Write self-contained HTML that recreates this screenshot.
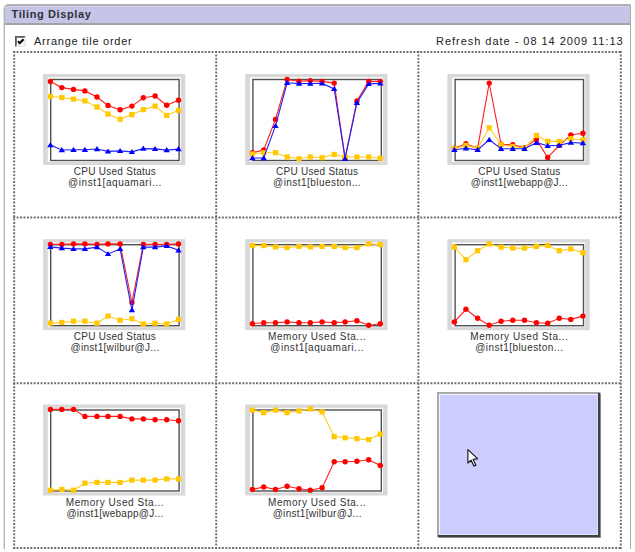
<!DOCTYPE html>
<html><head><meta charset="utf-8"><style>
html,body{margin:0;padding:0;background:#fff;width:635px;height:552px;overflow:hidden;}
body{position:relative;font-family:"Liberation Sans",sans-serif;color:#222;}
.panel{position:absolute;left:4px;top:4px;width:627px;height:545px;border-top:2px solid #b0b0b0;border-left:1px solid #b4b4b4;border-right:1px solid #a8a8a8;border-radius:5px 0 0 0;box-sizing:border-box;box-shadow:-1px 0 0 #e2e2e2;}
.hdr{position:absolute;left:5px;top:6px;width:625px;height:16px;background:#c5c5e7;border-top:1px solid #d0d0ec;box-sizing:content-box;border-bottom:2px solid #a4a4a4;border-radius:3px 0 0 0;}
.title{position:absolute;left:11.5px;top:8px;font-weight:bold;font-size:11px;line-height:13px;color:#303038;letter-spacing:0.62px;}
.txt{position:absolute;font-size:11px;line-height:12px;color:#222;white-space:nowrap;}
.cb{position:absolute;left:15px;top:36px;width:8px;height:8px;border:1px solid #555;border-right-color:#ccc;border-bottom-color:#ccc;background:#fff;}
.lbl{position:absolute;width:160px;text-align:center;font-size:10px;line-height:11px;color:#333;white-space:nowrap;}
svg{position:absolute;left:0;top:0;}
.ph{position:absolute;left:438px;top:392px;width:163px;height:146px;box-sizing:border-box;background:#ccccff;border-top:2px solid #acacac;border-left:2px solid #acacac;border-right:3px solid #404040;border-bottom:3px solid #404040;}
</style></head><body>
<div class="panel"></div>
<div class="hdr"></div>
<div class="title">Tiling Display</div>
<svg width="12" height="12" style="left:15px;top:35.5px"><rect x="0" y="0" width="10.5" height="10.5" fill="#fff"/><path d="M0.9 10.5V0.9H10.2" stroke="#5a5a5a" stroke-width="1.8" fill="none"/><path d="M10 1V10H1" stroke="#d8d8d8" stroke-width="1" fill="none"/><path d="M3 5.2L4.7 7.3L8.5 3.2" stroke="#000" stroke-width="2" fill="none"/></svg>
<div class="txt" style="left:34px;top:35px;letter-spacing:0.75px">Arrange tile order</div>
<div class="txt" style="left:436px;top:35px;letter-spacing:0.97px">Refresh date - 08 14 2009 11:13</div>
<svg width="635" height="552" viewBox="0 0 635 552">
<defs><pattern id="dots" width="4" height="4" patternUnits="userSpaceOnUse"><rect width="4" height="4" fill="#fff"/><rect x="1" y="1" width="1" height="1" fill="#f7f7f7"/></pattern></defs>
<line x1="14.2" y1="51.1" x2="14.2" y2="549" stroke="#6a6a6a" stroke-width="1.9" stroke-dasharray="1.9 1.52"/>
<line x1="216.2" y1="51.1" x2="216.2" y2="549" stroke="#6a6a6a" stroke-width="1.9" stroke-dasharray="1.9 1.52"/>
<line x1="418.4" y1="51.1" x2="418.4" y2="549" stroke="#6a6a6a" stroke-width="1.9" stroke-dasharray="1.9 1.52"/>
<line x1="620.8" y1="51.1" x2="620.8" y2="549" stroke="#6a6a6a" stroke-width="1.9" stroke-dasharray="1.9 1.52"/>
<line x1="13.25" y1="52.0" x2="622" y2="52.0" stroke="#6a6a6a" stroke-width="1.9" stroke-dasharray="1.9 1.52"/>
<line x1="13.25" y1="217.5" x2="622" y2="217.5" stroke="#6a6a6a" stroke-width="1.9" stroke-dasharray="1.9 1.52"/>
<line x1="13.25" y1="383.2" x2="622" y2="383.2" stroke="#6a6a6a" stroke-width="1.9" stroke-dasharray="1.9 1.52"/>
<line x1="13.25" y1="548.0" x2="622" y2="548.0" stroke="#6a6a6a" stroke-width="1.9" stroke-dasharray="1.9 1.52"/>
<rect x="43" y="74" width="142.3" height="91" fill="#d8d8d8"/>
<rect x="47.8" y="77.3" width="133" height="84.7" fill="#fff"/>
<rect x="50.7" y="79.5" width="128.4" height="81" fill="url(#dots)" stroke="#505050" stroke-width="1.4"/>
<polyline points="50.4,81.5 61.8,87.6 73.5,89.4 84.9,90.9 97.0,97.0 108.0,105.4 120.1,109.8 131.9,106.1 143.3,97.7 155.1,96.0 166.7,105.3 178.5,100.3" fill="none" stroke="#ff2020" stroke-width="1.1"/>
<circle cx="50.4" cy="81.5" r="2.7" fill="#ff0000"/>
<circle cx="61.8" cy="87.6" r="2.7" fill="#ff0000"/>
<circle cx="73.5" cy="89.4" r="2.7" fill="#ff0000"/>
<circle cx="84.9" cy="90.9" r="2.7" fill="#ff0000"/>
<circle cx="97.0" cy="97.0" r="2.7" fill="#ff0000"/>
<circle cx="108.0" cy="105.4" r="2.7" fill="#ff0000"/>
<circle cx="120.1" cy="109.8" r="2.7" fill="#ff0000"/>
<circle cx="131.9" cy="106.1" r="2.7" fill="#ff0000"/>
<circle cx="143.3" cy="97.7" r="2.7" fill="#ff0000"/>
<circle cx="155.1" cy="96.0" r="2.7" fill="#ff0000"/>
<circle cx="166.7" cy="105.3" r="2.7" fill="#ff0000"/>
<circle cx="178.5" cy="100.3" r="2.7" fill="#ff0000"/>
<polyline points="50.4,96.5 61.8,97.5 73.5,99.1 84.9,100.9 97.0,107.0 108.0,114.0 120.1,119.2 131.9,114.6 143.3,109.6 155.1,106.1 166.7,115.4 178.5,110.3" fill="none" stroke="#ffcc22" stroke-width="1.1"/>
<rect x="47.8" y="93.9" width="5.2" height="5.2" fill="#ffc800"/>
<rect x="59.2" y="94.9" width="5.2" height="5.2" fill="#ffc800"/>
<rect x="70.9" y="96.5" width="5.2" height="5.2" fill="#ffc800"/>
<rect x="82.3" y="98.3" width="5.2" height="5.2" fill="#ffc800"/>
<rect x="94.4" y="104.4" width="5.2" height="5.2" fill="#ffc800"/>
<rect x="105.4" y="111.4" width="5.2" height="5.2" fill="#ffc800"/>
<rect x="117.5" y="116.6" width="5.2" height="5.2" fill="#ffc800"/>
<rect x="129.3" y="112.0" width="5.2" height="5.2" fill="#ffc800"/>
<rect x="140.7" y="107.0" width="5.2" height="5.2" fill="#ffc800"/>
<rect x="152.5" y="103.5" width="5.2" height="5.2" fill="#ffc800"/>
<rect x="164.1" y="112.8" width="5.2" height="5.2" fill="#ffc800"/>
<rect x="175.9" y="107.7" width="5.2" height="5.2" fill="#ffc800"/>
<polyline points="50.4,145.1 61.8,150.0 73.5,149.8 84.9,149.8 97.0,149.0 108.0,151.4 120.1,150.9 131.9,151.9 143.3,148.6 155.1,148.9 166.7,150.1 178.5,149.1" fill="none" stroke="#2020ff" stroke-width="1.1"/>
<path d="M50.4 142.1L53.6 147.3L47.2 147.3Z" fill="#0000ff"/>
<path d="M61.8 147.0L65.0 152.2L58.6 152.2Z" fill="#0000ff"/>
<path d="M73.5 146.8L76.7 152.0L70.3 152.0Z" fill="#0000ff"/>
<path d="M84.9 146.8L88.1 152.0L81.7 152.0Z" fill="#0000ff"/>
<path d="M97.0 146.0L100.2 151.2L93.8 151.2Z" fill="#0000ff"/>
<path d="M108.0 148.4L111.2 153.6L104.8 153.6Z" fill="#0000ff"/>
<path d="M120.1 147.9L123.3 153.1L116.9 153.1Z" fill="#0000ff"/>
<path d="M131.9 148.9L135.1 154.1L128.7 154.1Z" fill="#0000ff"/>
<path d="M143.3 145.6L146.5 150.8L140.1 150.8Z" fill="#0000ff"/>
<path d="M155.1 145.9L158.3 151.1L151.9 151.1Z" fill="#0000ff"/>
<path d="M166.7 147.1L169.9 152.3L163.5 152.3Z" fill="#0000ff"/>
<path d="M178.5 146.1L181.7 151.3L175.3 151.3Z" fill="#0000ff"/>
<rect x="245.2" y="74" width="142.3" height="91" fill="#d8d8d8"/>
<rect x="250.0" y="77.3" width="133" height="84.7" fill="#fff"/>
<rect x="252.89999999999998" y="79.5" width="128.4" height="81" fill="url(#dots)" stroke="#505050" stroke-width="1.4"/>
<polyline points="252.4,152.8 263.7,150.0 275.5,119.4 287.1,79.5 299.0,81.3 310.3,80.6 322.1,81.4 334.2,83.1 345.1,158.0 356.9,101.0 368.7,81.4 380.3,81.4" fill="none" stroke="#ff2020" stroke-width="1.1"/>
<circle cx="252.4" cy="152.8" r="2.7" fill="#ff0000"/>
<circle cx="263.7" cy="150.0" r="2.7" fill="#ff0000"/>
<circle cx="275.5" cy="119.4" r="2.7" fill="#ff0000"/>
<circle cx="287.1" cy="79.5" r="2.7" fill="#ff0000"/>
<circle cx="299.0" cy="81.3" r="2.7" fill="#ff0000"/>
<circle cx="310.3" cy="80.6" r="2.7" fill="#ff0000"/>
<circle cx="322.1" cy="81.4" r="2.7" fill="#ff0000"/>
<circle cx="334.2" cy="83.1" r="2.7" fill="#ff0000"/>
<circle cx="345.1" cy="158.0" r="2.7" fill="#ff0000"/>
<circle cx="356.9" cy="101.0" r="2.7" fill="#ff0000"/>
<circle cx="368.7" cy="81.4" r="2.7" fill="#ff0000"/>
<circle cx="380.3" cy="81.4" r="2.7" fill="#ff0000"/>
<polyline points="252.4,154.0 263.7,152.7 275.5,152.7 287.1,157.0 299.0,158.7 310.3,157.0 322.1,157.7 334.2,154.4 345.1,157.0 356.9,157.0 368.7,157.0 380.3,158.2" fill="none" stroke="#ffcc22" stroke-width="1.1"/>
<rect x="249.8" y="151.4" width="5.2" height="5.2" fill="#ffc800"/>
<rect x="261.1" y="150.1" width="5.2" height="5.2" fill="#ffc800"/>
<rect x="272.9" y="150.1" width="5.2" height="5.2" fill="#ffc800"/>
<rect x="284.5" y="154.4" width="5.2" height="5.2" fill="#ffc800"/>
<rect x="296.4" y="156.1" width="5.2" height="5.2" fill="#ffc800"/>
<rect x="307.7" y="154.4" width="5.2" height="5.2" fill="#ffc800"/>
<rect x="319.5" y="155.1" width="5.2" height="5.2" fill="#ffc800"/>
<rect x="331.6" y="151.8" width="5.2" height="5.2" fill="#ffc800"/>
<rect x="342.5" y="154.4" width="5.2" height="5.2" fill="#ffc800"/>
<rect x="354.3" y="154.4" width="5.2" height="5.2" fill="#ffc800"/>
<rect x="366.1" y="154.4" width="5.2" height="5.2" fill="#ffc800"/>
<rect x="377.7" y="155.6" width="5.2" height="5.2" fill="#ffc800"/>
<polyline points="252.4,158.0 263.7,158.0 275.5,125.9 287.1,82.8 299.0,83.6 310.3,83.5 322.1,83.4 334.2,88.9 345.1,158.7 356.9,102.8 368.7,83.9 380.3,83.4" fill="none" stroke="#2020ff" stroke-width="1.1"/>
<path d="M252.4 155.0L255.6 160.2L249.2 160.2Z" fill="#0000ff"/>
<path d="M263.7 155.0L266.9 160.2L260.5 160.2Z" fill="#0000ff"/>
<path d="M275.5 122.9L278.7 128.1L272.3 128.1Z" fill="#0000ff"/>
<path d="M287.1 79.8L290.3 85.0L283.9 85.0Z" fill="#0000ff"/>
<path d="M299.0 80.6L302.2 85.8L295.8 85.8Z" fill="#0000ff"/>
<path d="M310.3 80.5L313.5 85.7L307.1 85.7Z" fill="#0000ff"/>
<path d="M322.1 80.4L325.3 85.6L318.9 85.6Z" fill="#0000ff"/>
<path d="M334.2 85.9L337.4 91.1L331.0 91.1Z" fill="#0000ff"/>
<path d="M345.1 155.7L348.3 160.9L341.9 160.9Z" fill="#0000ff"/>
<path d="M356.9 99.8L360.1 105.0L353.7 105.0Z" fill="#0000ff"/>
<path d="M368.7 80.9L371.9 86.1L365.5 86.1Z" fill="#0000ff"/>
<path d="M380.3 80.4L383.5 85.6L377.1 85.6Z" fill="#0000ff"/>
<rect x="447.4" y="74" width="142.3" height="91" fill="#d8d8d8"/>
<rect x="452.2" y="77.3" width="133" height="84.7" fill="#fff"/>
<rect x="455.09999999999997" y="79.5" width="128.4" height="81" fill="url(#dots)" stroke="#505050" stroke-width="1.4"/>
<polyline points="454.4,148.2 465.9,143.8 477.6,148.2 489.2,83.1 501.1,144.3 512.8,144.7 524.5,147.6 536.4,139.4 547.7,157.5 559.3,145.4 570.8,135.0 582.9,133.2" fill="none" stroke="#ff2020" stroke-width="1.1"/>
<circle cx="454.4" cy="148.2" r="2.7" fill="#ff0000"/>
<circle cx="465.9" cy="143.8" r="2.7" fill="#ff0000"/>
<circle cx="477.6" cy="148.2" r="2.7" fill="#ff0000"/>
<circle cx="489.2" cy="83.1" r="2.7" fill="#ff0000"/>
<circle cx="501.1" cy="144.3" r="2.7" fill="#ff0000"/>
<circle cx="512.8" cy="144.7" r="2.7" fill="#ff0000"/>
<circle cx="524.5" cy="147.6" r="2.7" fill="#ff0000"/>
<circle cx="536.4" cy="139.4" r="2.7" fill="#ff0000"/>
<circle cx="547.7" cy="157.5" r="2.7" fill="#ff0000"/>
<circle cx="559.3" cy="145.4" r="2.7" fill="#ff0000"/>
<circle cx="570.8" cy="135.0" r="2.7" fill="#ff0000"/>
<circle cx="582.9" cy="133.2" r="2.7" fill="#ff0000"/>
<polyline points="454.4,148.7 465.9,145.4 477.6,148.2 489.2,127.7 501.1,144.7 512.8,146.5 524.5,148.2 536.4,135.4 547.7,141.4 559.3,141.4 570.8,138.7 582.9,139.8" fill="none" stroke="#ffcc22" stroke-width="1.1"/>
<rect x="451.8" y="146.1" width="5.2" height="5.2" fill="#ffc800"/>
<rect x="463.3" y="142.8" width="5.2" height="5.2" fill="#ffc800"/>
<rect x="475.0" y="145.6" width="5.2" height="5.2" fill="#ffc800"/>
<rect x="486.6" y="125.1" width="5.2" height="5.2" fill="#ffc800"/>
<rect x="498.5" y="142.1" width="5.2" height="5.2" fill="#ffc800"/>
<rect x="510.2" y="143.9" width="5.2" height="5.2" fill="#ffc800"/>
<rect x="521.9" y="145.6" width="5.2" height="5.2" fill="#ffc800"/>
<rect x="533.8" y="132.8" width="5.2" height="5.2" fill="#ffc800"/>
<rect x="545.1" y="138.8" width="5.2" height="5.2" fill="#ffc800"/>
<rect x="556.7" y="138.8" width="5.2" height="5.2" fill="#ffc800"/>
<rect x="568.2" y="136.1" width="5.2" height="5.2" fill="#ffc800"/>
<rect x="580.3" y="137.2" width="5.2" height="5.2" fill="#ffc800"/>
<polyline points="454.4,149.8 465.9,148.2 477.6,149.8 489.2,139.8 501.1,148.7 512.8,148.7 524.5,148.7 536.4,142.7 547.7,145.8 559.3,145.4 570.8,142.5 582.9,143.1" fill="none" stroke="#2020ff" stroke-width="1.1"/>
<path d="M454.4 146.8L457.6 152.0L451.2 152.0Z" fill="#0000ff"/>
<path d="M465.9 145.2L469.1 150.4L462.7 150.4Z" fill="#0000ff"/>
<path d="M477.6 146.8L480.8 152.0L474.4 152.0Z" fill="#0000ff"/>
<path d="M489.2 136.8L492.4 142.0L486.0 142.0Z" fill="#0000ff"/>
<path d="M501.1 145.7L504.3 150.9L497.9 150.9Z" fill="#0000ff"/>
<path d="M512.8 145.7L516.0 150.9L509.6 150.9Z" fill="#0000ff"/>
<path d="M524.5 145.7L527.7 150.9L521.3 150.9Z" fill="#0000ff"/>
<path d="M536.4 139.7L539.6 144.9L533.2 144.9Z" fill="#0000ff"/>
<path d="M547.7 142.8L550.9 148.0L544.5 148.0Z" fill="#0000ff"/>
<path d="M559.3 142.4L562.5 147.6L556.1 147.6Z" fill="#0000ff"/>
<path d="M570.8 139.5L574.0 144.7L567.6 144.7Z" fill="#0000ff"/>
<path d="M582.9 140.1L586.1 145.3L579.7 145.3Z" fill="#0000ff"/>
<rect x="43" y="239.2" width="142.3" height="91" fill="#d8d8d8"/>
<rect x="47.8" y="242.5" width="133" height="84.7" fill="#fff"/>
<rect x="50.7" y="244.7" width="128.4" height="81" fill="url(#dots)" stroke="#505050" stroke-width="1.4"/>
<polyline points="50.4,244.4 61.8,244.4 73.5,243.9 84.9,243.9 97.0,244.4 108.0,243.9 120.1,243.9 131.9,302.5 143.3,244.4 155.1,244.4 166.7,244.4 178.5,243.9" fill="none" stroke="#ff2020" stroke-width="1.1"/>
<circle cx="50.4" cy="244.4" r="2.7" fill="#ff0000"/>
<circle cx="61.8" cy="244.4" r="2.7" fill="#ff0000"/>
<circle cx="73.5" cy="243.9" r="2.7" fill="#ff0000"/>
<circle cx="84.9" cy="243.9" r="2.7" fill="#ff0000"/>
<circle cx="97.0" cy="244.4" r="2.7" fill="#ff0000"/>
<circle cx="108.0" cy="243.9" r="2.7" fill="#ff0000"/>
<circle cx="120.1" cy="243.9" r="2.7" fill="#ff0000"/>
<circle cx="131.9" cy="302.5" r="2.7" fill="#ff0000"/>
<circle cx="143.3" cy="244.4" r="2.7" fill="#ff0000"/>
<circle cx="155.1" cy="244.4" r="2.7" fill="#ff0000"/>
<circle cx="166.7" cy="244.4" r="2.7" fill="#ff0000"/>
<circle cx="178.5" cy="243.9" r="2.7" fill="#ff0000"/>
<polyline points="50.4,323.2 61.8,322.4 73.5,321.2 84.9,321.2 97.0,323.2 108.0,316.1 120.1,320.2 131.9,318.7 143.3,324.0 155.1,323.2 166.7,324.0 178.5,319.4" fill="none" stroke="#ffcc22" stroke-width="1.1"/>
<rect x="47.8" y="320.6" width="5.2" height="5.2" fill="#ffc800"/>
<rect x="59.2" y="319.8" width="5.2" height="5.2" fill="#ffc800"/>
<rect x="70.9" y="318.6" width="5.2" height="5.2" fill="#ffc800"/>
<rect x="82.3" y="318.6" width="5.2" height="5.2" fill="#ffc800"/>
<rect x="94.4" y="320.6" width="5.2" height="5.2" fill="#ffc800"/>
<rect x="105.4" y="313.5" width="5.2" height="5.2" fill="#ffc800"/>
<rect x="117.5" y="317.6" width="5.2" height="5.2" fill="#ffc800"/>
<rect x="129.3" y="316.1" width="5.2" height="5.2" fill="#ffc800"/>
<rect x="140.7" y="321.4" width="5.2" height="5.2" fill="#ffc800"/>
<rect x="152.5" y="320.6" width="5.2" height="5.2" fill="#ffc800"/>
<rect x="164.1" y="321.4" width="5.2" height="5.2" fill="#ffc800"/>
<rect x="175.9" y="316.8" width="5.2" height="5.2" fill="#ffc800"/>
<polyline points="50.4,246.9 61.8,248.1 73.5,248.9 84.9,248.9 97.0,247.1 108.0,253.9 120.1,248.9 131.9,310.1 143.3,247.1 155.1,247.1 166.7,245.9 178.5,250.2" fill="none" stroke="#2020ff" stroke-width="1.1"/>
<path d="M50.4 243.9L53.6 249.1L47.2 249.1Z" fill="#0000ff"/>
<path d="M61.8 245.1L65.0 250.3L58.6 250.3Z" fill="#0000ff"/>
<path d="M73.5 245.9L76.7 251.1L70.3 251.1Z" fill="#0000ff"/>
<path d="M84.9 245.9L88.1 251.1L81.7 251.1Z" fill="#0000ff"/>
<path d="M97.0 244.1L100.2 249.3L93.8 249.3Z" fill="#0000ff"/>
<path d="M108.0 250.9L111.2 256.1L104.8 256.1Z" fill="#0000ff"/>
<path d="M120.1 245.9L123.3 251.1L116.9 251.1Z" fill="#0000ff"/>
<path d="M131.9 307.1L135.1 312.3L128.7 312.3Z" fill="#0000ff"/>
<path d="M143.3 244.1L146.5 249.3L140.1 249.3Z" fill="#0000ff"/>
<path d="M155.1 244.1L158.3 249.3L151.9 249.3Z" fill="#0000ff"/>
<path d="M166.7 242.9L169.9 248.1L163.5 248.1Z" fill="#0000ff"/>
<path d="M178.5 247.2L181.7 252.4L175.3 252.4Z" fill="#0000ff"/>
<rect x="245.2" y="239.2" width="142.3" height="91" fill="#d8d8d8"/>
<rect x="250.0" y="242.5" width="133" height="84.7" fill="#fff"/>
<rect x="252.89999999999998" y="244.7" width="128.4" height="81" fill="url(#dots)" stroke="#505050" stroke-width="1.4"/>
<polyline points="252.4,323.7 263.7,322.7 275.5,322.7 287.1,321.9 299.0,322.7 310.3,322.7 322.1,321.9 334.2,322.7 345.1,321.9 356.9,320.7 368.7,325.2 380.3,323.7" fill="none" stroke="#ff2020" stroke-width="1.1"/>
<circle cx="252.4" cy="323.7" r="2.7" fill="#ff0000"/>
<circle cx="263.7" cy="322.7" r="2.7" fill="#ff0000"/>
<circle cx="275.5" cy="322.7" r="2.7" fill="#ff0000"/>
<circle cx="287.1" cy="321.9" r="2.7" fill="#ff0000"/>
<circle cx="299.0" cy="322.7" r="2.7" fill="#ff0000"/>
<circle cx="310.3" cy="322.7" r="2.7" fill="#ff0000"/>
<circle cx="322.1" cy="321.9" r="2.7" fill="#ff0000"/>
<circle cx="334.2" cy="322.7" r="2.7" fill="#ff0000"/>
<circle cx="345.1" cy="321.9" r="2.7" fill="#ff0000"/>
<circle cx="356.9" cy="320.7" r="2.7" fill="#ff0000"/>
<circle cx="368.7" cy="325.2" r="2.7" fill="#ff0000"/>
<circle cx="380.3" cy="323.7" r="2.7" fill="#ff0000"/>
<polyline points="252.4,245.6 263.7,245.6 275.5,246.9 287.1,247.6 299.0,246.4 310.3,246.9 322.1,246.4 334.2,246.4 345.1,247.6 356.9,247.6 368.7,243.9 380.3,244.6" fill="none" stroke="#ffcc22" stroke-width="1.1"/>
<rect x="249.8" y="243.0" width="5.2" height="5.2" fill="#ffc800"/>
<rect x="261.1" y="243.0" width="5.2" height="5.2" fill="#ffc800"/>
<rect x="272.9" y="244.3" width="5.2" height="5.2" fill="#ffc800"/>
<rect x="284.5" y="245.0" width="5.2" height="5.2" fill="#ffc800"/>
<rect x="296.4" y="243.8" width="5.2" height="5.2" fill="#ffc800"/>
<rect x="307.7" y="244.3" width="5.2" height="5.2" fill="#ffc800"/>
<rect x="319.5" y="243.8" width="5.2" height="5.2" fill="#ffc800"/>
<rect x="331.6" y="243.8" width="5.2" height="5.2" fill="#ffc800"/>
<rect x="342.5" y="245.0" width="5.2" height="5.2" fill="#ffc800"/>
<rect x="354.3" y="245.0" width="5.2" height="5.2" fill="#ffc800"/>
<rect x="366.1" y="241.3" width="5.2" height="5.2" fill="#ffc800"/>
<rect x="377.7" y="242.0" width="5.2" height="5.2" fill="#ffc800"/>
<rect x="447.4" y="239.2" width="142.3" height="91" fill="#d8d8d8"/>
<rect x="452.2" y="242.5" width="133" height="84.7" fill="#fff"/>
<rect x="455.09999999999997" y="244.7" width="128.4" height="81" fill="url(#dots)" stroke="#505050" stroke-width="1.4"/>
<polyline points="454.4,321.9 465.9,309.3 477.6,318.2 489.2,325.2 501.1,321.2 512.8,320.2 524.5,320.2 536.4,322.7 547.7,323.2 559.3,318.2 570.8,319.4 582.9,316.1" fill="none" stroke="#ff2020" stroke-width="1.1"/>
<circle cx="454.4" cy="321.9" r="2.7" fill="#ff0000"/>
<circle cx="465.9" cy="309.3" r="2.7" fill="#ff0000"/>
<circle cx="477.6" cy="318.2" r="2.7" fill="#ff0000"/>
<circle cx="489.2" cy="325.2" r="2.7" fill="#ff0000"/>
<circle cx="501.1" cy="321.2" r="2.7" fill="#ff0000"/>
<circle cx="512.8" cy="320.2" r="2.7" fill="#ff0000"/>
<circle cx="524.5" cy="320.2" r="2.7" fill="#ff0000"/>
<circle cx="536.4" cy="322.7" r="2.7" fill="#ff0000"/>
<circle cx="547.7" cy="323.2" r="2.7" fill="#ff0000"/>
<circle cx="559.3" cy="318.2" r="2.7" fill="#ff0000"/>
<circle cx="570.8" cy="319.4" r="2.7" fill="#ff0000"/>
<circle cx="582.9" cy="316.1" r="2.7" fill="#ff0000"/>
<polyline points="454.4,247.1 465.9,259.7 477.6,250.7 489.2,243.9 501.1,247.1 512.8,248.1 524.5,248.1 536.4,246.4 547.7,245.6 559.3,250.7 570.8,248.9 582.9,252.7" fill="none" stroke="#ffcc22" stroke-width="1.1"/>
<rect x="451.8" y="244.5" width="5.2" height="5.2" fill="#ffc800"/>
<rect x="463.3" y="257.1" width="5.2" height="5.2" fill="#ffc800"/>
<rect x="475.0" y="248.1" width="5.2" height="5.2" fill="#ffc800"/>
<rect x="486.6" y="241.3" width="5.2" height="5.2" fill="#ffc800"/>
<rect x="498.5" y="244.5" width="5.2" height="5.2" fill="#ffc800"/>
<rect x="510.2" y="245.5" width="5.2" height="5.2" fill="#ffc800"/>
<rect x="521.9" y="245.5" width="5.2" height="5.2" fill="#ffc800"/>
<rect x="533.8" y="243.8" width="5.2" height="5.2" fill="#ffc800"/>
<rect x="545.1" y="243.0" width="5.2" height="5.2" fill="#ffc800"/>
<rect x="556.7" y="248.1" width="5.2" height="5.2" fill="#ffc800"/>
<rect x="568.2" y="246.3" width="5.2" height="5.2" fill="#ffc800"/>
<rect x="580.3" y="250.1" width="5.2" height="5.2" fill="#ffc800"/>
<rect x="43" y="404.5" width="142.3" height="91" fill="#d8d8d8"/>
<rect x="47.8" y="407.8" width="133" height="84.7" fill="#fff"/>
<rect x="50.7" y="410.0" width="128.4" height="81" fill="url(#dots)" stroke="#505050" stroke-width="1.4"/>
<polyline points="50.4,409.4 61.8,409.4 73.5,409.4 84.9,416.4 97.0,416.4 108.0,416.4 120.1,416.4 131.9,418.9 143.3,418.9 155.1,419.7 166.7,419.7 178.5,420.7" fill="none" stroke="#ff2020" stroke-width="1.1"/>
<circle cx="50.4" cy="409.4" r="2.7" fill="#ff0000"/>
<circle cx="61.8" cy="409.4" r="2.7" fill="#ff0000"/>
<circle cx="73.5" cy="409.4" r="2.7" fill="#ff0000"/>
<circle cx="84.9" cy="416.4" r="2.7" fill="#ff0000"/>
<circle cx="97.0" cy="416.4" r="2.7" fill="#ff0000"/>
<circle cx="108.0" cy="416.4" r="2.7" fill="#ff0000"/>
<circle cx="120.1" cy="416.4" r="2.7" fill="#ff0000"/>
<circle cx="131.9" cy="418.9" r="2.7" fill="#ff0000"/>
<circle cx="143.3" cy="418.9" r="2.7" fill="#ff0000"/>
<circle cx="155.1" cy="419.7" r="2.7" fill="#ff0000"/>
<circle cx="166.7" cy="419.7" r="2.7" fill="#ff0000"/>
<circle cx="178.5" cy="420.7" r="2.7" fill="#ff0000"/>
<polyline points="50.4,490.2 61.8,489.5 73.5,490.2 84.9,483.2 97.0,482.4 108.0,482.4 120.1,482.4 131.9,480.1 143.3,480.1 155.1,480.1 166.7,478.9 178.5,478.9" fill="none" stroke="#ffcc22" stroke-width="1.1"/>
<rect x="47.8" y="487.6" width="5.2" height="5.2" fill="#ffc800"/>
<rect x="59.2" y="486.9" width="5.2" height="5.2" fill="#ffc800"/>
<rect x="70.9" y="487.6" width="5.2" height="5.2" fill="#ffc800"/>
<rect x="82.3" y="480.6" width="5.2" height="5.2" fill="#ffc800"/>
<rect x="94.4" y="479.8" width="5.2" height="5.2" fill="#ffc800"/>
<rect x="105.4" y="479.8" width="5.2" height="5.2" fill="#ffc800"/>
<rect x="117.5" y="479.8" width="5.2" height="5.2" fill="#ffc800"/>
<rect x="129.3" y="477.5" width="5.2" height="5.2" fill="#ffc800"/>
<rect x="140.7" y="477.5" width="5.2" height="5.2" fill="#ffc800"/>
<rect x="152.5" y="477.5" width="5.2" height="5.2" fill="#ffc800"/>
<rect x="164.1" y="476.3" width="5.2" height="5.2" fill="#ffc800"/>
<rect x="175.9" y="476.3" width="5.2" height="5.2" fill="#ffc800"/>
<rect x="245.2" y="404.5" width="142.3" height="91" fill="#d8d8d8"/>
<rect x="250.0" y="407.8" width="133" height="84.7" fill="#fff"/>
<rect x="252.89999999999998" y="410.0" width="128.4" height="81" fill="url(#dots)" stroke="#505050" stroke-width="1.4"/>
<polyline points="252.4,489.5 263.7,486.9 275.5,489.5 287.1,486.2 299.0,488.7 310.3,490.2 322.1,487.7 334.2,461.8 345.1,461.8 356.9,461.2 368.7,459.7 380.3,465.5" fill="none" stroke="#ff2020" stroke-width="1.1"/>
<circle cx="252.4" cy="489.5" r="2.7" fill="#ff0000"/>
<circle cx="263.7" cy="486.9" r="2.7" fill="#ff0000"/>
<circle cx="275.5" cy="489.5" r="2.7" fill="#ff0000"/>
<circle cx="287.1" cy="486.2" r="2.7" fill="#ff0000"/>
<circle cx="299.0" cy="488.7" r="2.7" fill="#ff0000"/>
<circle cx="310.3" cy="490.2" r="2.7" fill="#ff0000"/>
<circle cx="322.1" cy="487.7" r="2.7" fill="#ff0000"/>
<circle cx="334.2" cy="461.8" r="2.7" fill="#ff0000"/>
<circle cx="345.1" cy="461.8" r="2.7" fill="#ff0000"/>
<circle cx="356.9" cy="461.2" r="2.7" fill="#ff0000"/>
<circle cx="368.7" cy="459.7" r="2.7" fill="#ff0000"/>
<circle cx="380.3" cy="465.5" r="2.7" fill="#ff0000"/>
<polyline points="252.4,410.1 263.7,412.6 275.5,410.1 287.1,412.6 299.0,410.9 310.3,408.9 322.1,411.9 334.2,436.6 345.1,437.8 356.9,438.6 368.7,439.6 380.3,434.0" fill="none" stroke="#ffcc22" stroke-width="1.1"/>
<rect x="249.8" y="407.5" width="5.2" height="5.2" fill="#ffc800"/>
<rect x="261.1" y="410.0" width="5.2" height="5.2" fill="#ffc800"/>
<rect x="272.9" y="407.5" width="5.2" height="5.2" fill="#ffc800"/>
<rect x="284.5" y="410.0" width="5.2" height="5.2" fill="#ffc800"/>
<rect x="296.4" y="408.3" width="5.2" height="5.2" fill="#ffc800"/>
<rect x="307.7" y="406.3" width="5.2" height="5.2" fill="#ffc800"/>
<rect x="319.5" y="409.3" width="5.2" height="5.2" fill="#ffc800"/>
<rect x="331.6" y="434.0" width="5.2" height="5.2" fill="#ffc800"/>
<rect x="342.5" y="435.2" width="5.2" height="5.2" fill="#ffc800"/>
<rect x="354.3" y="436.0" width="5.2" height="5.2" fill="#ffc800"/>
<rect x="366.1" y="437.0" width="5.2" height="5.2" fill="#ffc800"/>
<rect x="377.7" y="431.4" width="5.2" height="5.2" fill="#ffc800"/>
</svg>
<div class="lbl" style="left:35.0px;top:166.0px;letter-spacing:0.26px">CPU Used Status</div>
<div class="lbl" style="left:35.0px;top:177.0px;letter-spacing:0.54px">@inst1[aquamari...</div>
<div class="lbl" style="left:237.2px;top:166.0px;letter-spacing:0.26px">CPU Used Status</div>
<div class="lbl" style="left:237.2px;top:177.0px;letter-spacing:0.45px">@inst1[blueston...</div>
<div class="lbl" style="left:439.4px;top:166.0px;letter-spacing:0.26px">CPU Used Status</div>
<div class="lbl" style="left:439.4px;top:177.0px;letter-spacing:0.25px">@inst1[webapp@J...</div>
<div class="lbl" style="left:35.0px;top:331.2px;letter-spacing:0.26px">CPU Used Status</div>
<div class="lbl" style="left:35.0px;top:342.2px;letter-spacing:0.3px">@inst1[wilbur@J...</div>
<div class="lbl" style="left:237.2px;top:331.2px;letter-spacing:0.55px">Memory Used Sta...</div>
<div class="lbl" style="left:237.2px;top:342.2px;letter-spacing:0.54px">@inst1[aquamari...</div>
<div class="lbl" style="left:439.4px;top:331.2px;letter-spacing:0.55px">Memory Used Sta...</div>
<div class="lbl" style="left:439.4px;top:342.2px;letter-spacing:0.45px">@inst1[blueston...</div>
<div class="lbl" style="left:35.0px;top:496.5px;letter-spacing:0.55px">Memory Used Sta...</div>
<div class="lbl" style="left:35.0px;top:507.5px;letter-spacing:0.25px">@inst1[webapp@J...</div>
<div class="lbl" style="left:237.2px;top:496.5px;letter-spacing:0.55px">Memory Used Sta...</div>
<div class="lbl" style="left:237.2px;top:507.5px;letter-spacing:0.3px">@inst1[wilbur@J...</div>
<svg width="170" height="150" style="left:437px;top:392px" viewBox="0 0 170 150" shape-rendering="crispEdges">
<rect x="0" y="0" width="164" height="146" fill="#ccccff"/>
<rect x="0" y="0" width="163" height="2" fill="#a9a9a9"/><rect x="0" y="0" width="2" height="145" fill="#a9a9a9"/>
<rect x="2" y="2" width="159" height="1" fill="#f4f4ff"/><rect x="2" y="2" width="1" height="141" fill="#f4f4ff"/>
<rect x="160" y="2" width="1" height="141" fill="#e0e0ff"/><rect x="2" y="142" width="159" height="1" fill="#e0e0ff"/>
<rect x="161" y="1" width="2" height="144" fill="#404040"/><rect x="1" y="143" width="162" height="2" fill="#404040"/>
<rect x="163" y="2" width="1" height="144" fill="#8a8a8a"/><rect x="2" y="145" width="162" height="1" fill="#8a8a8a"/>
</svg>
<svg width="16" height="22" style="left:467px;top:449px" viewBox="0 0 16 22"><path transform="translate(2.2,1.6)" d="M0 0L0 13.4L3.2 10.6L6 16.5L8 15.6L5.2 9.8L9.7 9.1Z" fill="#b0b0d8" opacity="0.5"/><path transform="translate(0.9,0.6)" d="M0 0L0 13.4L3.2 10.6L6 16.5L8 15.6L5.2 9.8L9.7 9.1Z" fill="#fff" stroke="#111" stroke-width="1.1" stroke-linejoin="round"/></svg>
</body></html>
